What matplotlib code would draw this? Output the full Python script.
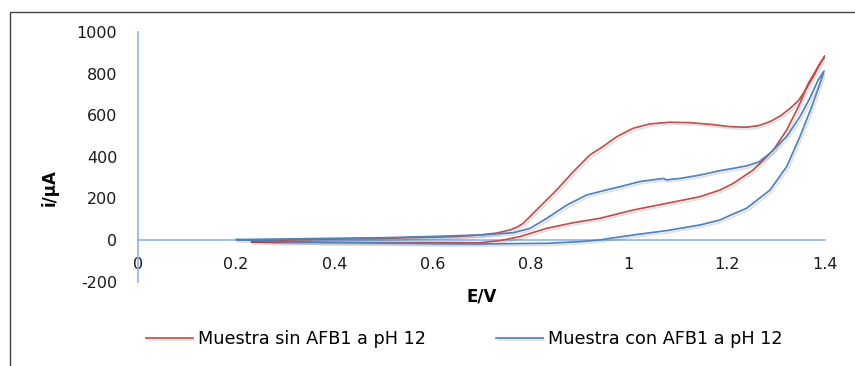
import matplotlib
matplotlib.use("Agg")
import matplotlib.pyplot as plt
import matplotlib.patheffects as pe
from matplotlib.patches import Rectangle

plt.rcParams['font.family'] = ['DejaVu Sans']
plt.rcParams['axes.unicode_minus'] = False

# cyclic voltammograms, forward scan then reverse scan
E_sin = [0.232, 0.30, 0.40, 0.50, 0.60, 0.65, 0.697, 0.73, 0.758, 0.772, 0.785, 0.819, 0.853,
         0.887, 0.921, 0.945, 0.976, 1.009, 1.043, 1.084, 1.125, 1.166, 1.206, 1.240,
         1.265, 1.288, 1.310, 1.329, 1.345, 1.356, 1.376, 1.390, 1.400,
         1.386, 1.366, 1.346, 1.322, 1.295, 1.254, 1.213, 1.186, 1.145, 1.077, 1.009,
         0.941, 0.887, 0.833, 0.778, 0.738, 0.697, 0.60, 0.50, 0.40, 0.30, 0.232]
i_sin = [-10, 0, 5, 8, 14, 17, 24, 33, 48, 61, 80, 160, 240,
         328, 409, 445, 497, 537, 558, 566, 564, 556, 545, 542,
         550, 569, 598, 633, 668, 705, 785, 849, 885,
         833, 753, 641, 529, 433, 337, 272, 240, 208, 176, 144,
         104, 83, 56, 16, -3, -13, -12, -12, -12, -12, -10]

E_con = [0.201, 0.30, 0.40, 0.50, 0.60, 0.697, 0.765, 0.799, 0.833, 0.874, 0.894, 0.914, 0.950,
         0.982, 1.023, 1.071, 1.077, 1.105, 1.145, 1.186, 1.240, 1.265, 1.288, 1.322,
         1.349, 1.369, 1.386, 1.398,
         1.390, 1.373, 1.349, 1.322, 1.288, 1.240, 1.206, 1.186, 1.145, 1.077, 1.009,
         0.962, 0.941, 0.901, 0.833, 0.697, 0.60, 0.50, 0.40, 0.30, 0.201]
i_con = [2, 5, 8, 11, 17, 24, 35, 56, 104, 168, 192, 216, 238,
         256, 281, 296, 289, 296, 312, 333, 356, 375, 417, 497,
         593, 681, 769, 812,
         753, 641, 497, 353, 240, 152, 118, 96, 72, 45, 24,
         8, 0, -8, -16, -19, -18, -15, -12, -8, 2]

x_ticks = [0, 0.2, 0.4, 0.6, 0.8, 1.0, 1.2, 1.4]
x_ticklabels = ['0', '0.2', '0.4', '0.6', '0.8', '1', '1.2', '1.4']
y_ticks = [-200, 0, 200, 400, 600, 800, 1000]

labels = ['Muestra sin AFB1 a pH 12', 'Muestra con AFB1 a pH 12']
colors = ['#C0504D', '#4F81BD']
axis_color = '#8EB4E3'

fig = plt.figure(figsize=(8.55, 3.66), dpi=100)

# outer chart frame (cut off at right and bottom)
fig.add_artist(Rectangle((10 / 855, -0.2), 1.2, 1.2 - 12 / 366,
                         transform=fig.transFigure, fill=False,
                         edgecolor='#444444', linewidth=1.0))

ax = fig.add_axes([0.1614, 0.2306, 0.8035, 0.682])

shadow = [pe.SimpleLineShadow(offset=(1.2, -1.5), shadow_color='black', alpha=0.12),
          pe.Normal()]
lines = []
for E, i, c, lab in zip([E_sin, E_con], [i_sin, i_con], colors, labels):
    ln, = ax.plot(E, i, color=c, linewidth=1.25, label=lab, path_effects=shadow)
    lines.append(ln)

ax.set_xlim(0, 1.4)
ax.set_ylim(-200, 1000)
ax.set_xticks(x_ticks)
ax.set_xticklabels(x_ticklabels)
ax.set_yticks(y_ticks)

for s in ['top', 'right']:
    ax.spines[s].set_visible(False)
ax.spines['bottom'].set_position(('data', 0))
ax.spines['bottom'].set_color(axis_color)
ax.spines['left'].set_color(axis_color)
ax.spines['bottom'].set_linewidth(1.2)
ax.spines['left'].set_linewidth(1.2)
ax.spines['bottom'].set_zorder(1)

ax.tick_params(axis='x', length=0, pad=12, labelsize=11.5, labelcolor='#1a1a1a')
ax.tick_params(axis='y', length=0, pad=15, labelsize=11.5, labelcolor='#1a1a1a')

ax.set_ylabel('i/µA', fontsize=12, fontweight='bold')
ax.yaxis.set_label_coords(-0.115, 0.375)
ax.set_xlabel('E/V', fontsize=12, fontweight='bold')
ax.xaxis.label.set_va('center')
ax.xaxis.set_label_coords(0.5, -0.06)

fig.legend(handles=lines, loc='center', bbox_to_anchor=(464 / 855, 27 / 366),
           ncol=2, frameon=False, fontsize=12.7, handlelength=2.65,
           handletextpad=0.28, columnspacing=4.0)

fig.savefig('out.png', dpi=100)
